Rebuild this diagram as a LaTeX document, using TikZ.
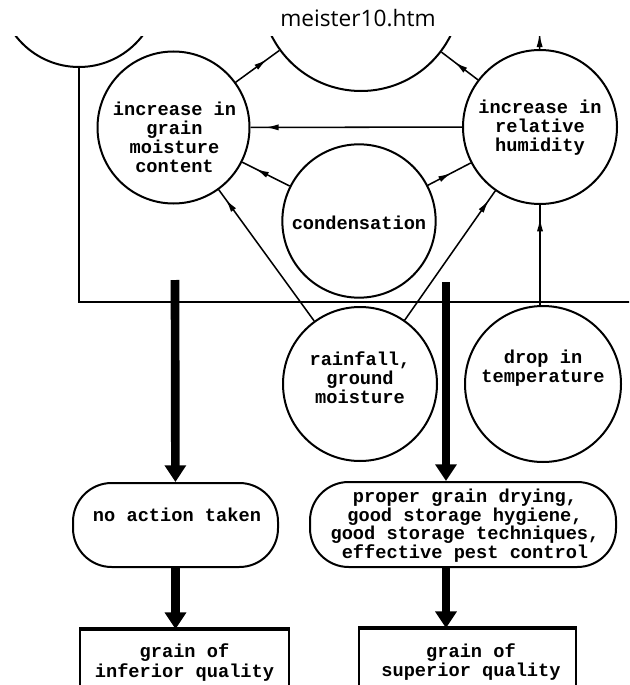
\documentclass[tikz,border=0pt]{standalone}
\usepackage{fontspec}
\setmainfont{Liberation Mono}
\newfontfamily\titlefont{Open Sans}
\usetikzlibrary{arrows.meta,decorations.markings}
\tikzset{
  lbl/.style={font=\bfseries\fontsize{14}{14.3}\selectfont, align=center, inner sep=0pt},
  circ/.style={circle, draw, line width=1.5pt, minimum size=114pt, inner sep=0pt},
  stad/.style={rectangle, rounded corners=29pt, draw, line width=1.5pt, inner sep=0pt},
  sqbox/.style={rectangle, draw, line width=1.3pt, inner sep=0pt},
  link/.style={line width=1.15pt},
  tipat/.style={postaction={decorate}, decoration={markings,
      mark=at position #1 with {\arrow{Latex[length=10pt,width=4.6pt]}}}},
  fat/.style={line width=6.5pt, -{Triangle[length=12.5pt,width=15.5pt]}},
}
\begin{document}
\begin{tikzpicture}[x=0.75pt,y=-0.75pt]
\useasboundingbox (0,0) rectangle (629,685);
\node[font=\titlefont\fontsize{17}{20}\selectfont, anchor=base, inner sep=0pt] (title) at (358,27) {meister10.htm};
\begin{scope}
\clip (0,37) rectangle (629,685);
% circles
\node[circ, minimum size=120pt] (tl) at (79,-13) {};
\node[circ, minimum size=150pt] (tc) at (361,-9) {};
\node[circ] (gm) at (173.5,127.5) {};
\node[circ, minimum size=115.5pt] (rh) at (540,127) {};
\node[circ, minimum size=115pt] (co) at (359,221) {};
\node[circ, minimum size=115.5pt] (rf) at (360,384) {};
\node[circ, minimum size=117pt] (dt) at (543,384) {};
% texts
\node[lbl] (gmt) at (174.5,137.5) {increase in\\grain\\moisture\\content};
\node[lbl] (rht) at (540,127.5) {increase in\\relative\\humidity};
\node[lbl] (cot) at (359,223) {condensation};
\node[lbl] (rft) at (360,378) {rainfall,\\ground\\moisture};
\node[lbl] (dtt) at (543,368) {drop in\\temperature};
% rounded boxes
\node[stad, minimum width=153.75pt, minimum height=63pt] (na) at (175.5,525) {};
\node[lbl] (nat) at (177,515) {no action taken};
\node[stad, minimum width=229.5pt, minimum height=63.75pt] (pg) at (463,524.5) {};
\node[lbl, font=\bfseries\fontsize{14}{14}\selectfont] (pgt) at (465,525.5) {proper grain drying,\\good storage hygiene,\\good storage techniques,\\effective pest control};
% bottom boxes
\node[sqbox, minimum width=156.75pt, minimum height=48.75pt] (iq) at (184.5,662.5) {};
\node[lbl] (iqt) at (184.5,662.5) {grain of\\inferior quality};
\node[sqbox, minimum width=162.75pt, minimum height=48.75pt] (sq) at (467.5,661.5) {};
\node[lbl] (sqt) at (471,662) {grain of\\superior quality};
\draw[line width=2.6pt] (iq.north west) -- (iq.north east);
\draw[line width=2.6pt] (sq.north west) -- (sq.north east);
% thin connectors
\coordinate (edge) at (640,302);
\coordinate (up) at (539.5,15);
\draw[link] (tl.south) |- (edge);
\draw[link, tipat=0.72] (gm) -- (tc);
\draw[link, tipat=0.64] (rh) -- (tc);
\draw[link, tipat=0.45] (rh) -- (up);
\draw[link, tipat=0.93] (rh) -- (gm);
\draw[link, tipat=0.72] (co) -- (gm);
\draw[link, tipat=0.55] (co) -- (rh);
\draw[link, tipat=0.93] (rf) -- (gm);
\draw[link, tipat=0.93] (rf) -- (rh);
\draw[link, tipat=0.87] (rh.south |- dt.north) -- (rh.south);
% thick arrows
\coordinate (s1) at (175,280);
\coordinate (s2) at (446,282);
\draw[fat] (s1) -- (na);
\draw[fat] (s2) -- (s2 |- pg.north);
\draw[fat] (na.south) -- (na.south |- iq.north);
\draw[fat] (s2 |- pg.south) -- (s2 |- sq.north);
\end{scope}
\end{tikzpicture}
\end{document}
